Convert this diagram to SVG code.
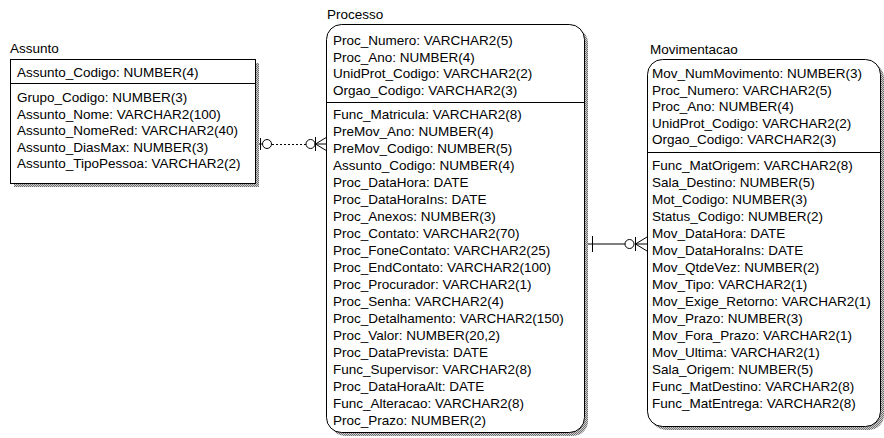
<svg xmlns="http://www.w3.org/2000/svg" width="884" height="438" viewBox="0 0 884 438">
<defs>
<pattern id="hatch" width="2" height="2" patternUnits="userSpaceOnUse">
<rect width="2" height="2" fill="#d0d0d0"/>
<rect width="1" height="1" fill="#707070"/>
<rect x="1" y="1" width="1" height="1" fill="#707070"/>
</pattern>
</defs>
<style>
text{font-family:"Liberation Sans",Arial,sans-serif;font-size:13.5px;fill:#000}
.box{fill:#fff;stroke:#000;stroke-width:1}
.shadow{fill:url(#hatch)}
.sep{stroke:#000;stroke-width:1}
.ln{stroke:#000;stroke-width:1;fill:none}
.dot{stroke:#000;stroke-width:1;fill:none;stroke-dasharray:2,2}
.circ{fill:#fff;stroke:#000;stroke-width:1}
</style>
<g id="connectors">
<g id="assunto-processo">
<line class="ln" x1="255" y1="144" x2="262" y2="144"/>
<line class="ln" x1="260.5" y1="138" x2="260.5" y2="150"/>
<circle class="circ" cx="267" cy="144" r="4.5"/>
<line class="dot" x1="272" y1="144.5" x2="306" y2="144.5"/>
<circle class="circ" cx="310.5" cy="144" r="4.5"/>
<line class="ln" x1="315.5" y1="137" x2="315.5" y2="151"/>
<path class="ln" d="M315.5 144 L327 137 M315.5 144 L327 151 M315 144 L327 144"/>
</g>
<g id="processo-movimentacao">
<line class="ln" x1="584" y1="244" x2="625" y2="244"/>
<line class="ln" x1="592.5" y1="236" x2="592.5" y2="252"/>
<circle class="circ" cx="629.5" cy="244" r="4.5"/>
<line class="ln" x1="635.5" y1="237" x2="635.5" y2="251"/>
<path class="ln" d="M635.5 244 L647 237 M635.5 244 L647 251 M635 244 L647 244"/>
</g>
</g>
<g id="assunto">
<text x="10" y="53">Assunto</text>
<rect class="shadow" x="14" y="63" width="245" height="124"/>
<rect class="box" x="10.5" y="59.5" width="245" height="124"/>
<line class="sep" x1="10.5" y1="83.5" x2="255.5" y2="83.5"/>
<text x="17" y="77">Assunto_Codigo: NUMBER(4)</text>
<text x="17" y="102">Grupo_Codigo: NUMBER(3)</text>
<text x="17" y="118.5">Assunto_Nome: VARCHAR2(100)</text>
<text x="17" y="135">Assunto_NomeRed: VARCHAR2(40)</text>
<text x="17" y="151.5">Assunto_DiasMax: NUMBER(3)</text>
<text x="17" y="168">Assunto_TipoPessoa: VARCHAR2(2)</text>
</g>
<g id="processo">
<text x="327" y="19">Processo</text>
<rect class="shadow" x="330" y="28" width="258" height="408" rx="15"/>
<rect class="box" x="326.5" y="24.5" width="258" height="408" rx="15"/>
<line class="sep" x1="326.5" y1="102.5" x2="584.5" y2="102.5"/>
<text x="333" y="45">Proc_Numero: VARCHAR2(5)</text>
<text x="333" y="61.5">Proc_Ano: NUMBER(4)</text>
<text x="333" y="78">UnidProt_Codigo: VARCHAR2(2)</text>
<text x="333" y="94.5">Orgao_Codigo: VARCHAR2(3)</text>
<text x="333" y="119">Func_Matricula: VARCHAR2(8)</text>
<text x="333" y="136">PreMov_Ano: NUMBER(4)</text>
<text x="333" y="153">PreMov_Codigo: NUMBER(5)</text>
<text x="333" y="170">Assunto_Codigo: NUMBER(4)</text>
<text x="333" y="187">Proc_DataHora: DATE</text>
<text x="333" y="204">Proc_DataHoraIns: DATE</text>
<text x="333" y="221">Proc_Anexos: NUMBER(3)</text>
<text x="333" y="238">Proc_Contato: VARCHAR2(70)</text>
<text x="333" y="255">Proc_FoneContato: VARCHAR2(25)</text>
<text x="333" y="272">Proc_EndContato: VARCHAR2(100)</text>
<text x="333" y="289">Proc_Procurador: VARCHAR2(1)</text>
<text x="333" y="306">Proc_Senha: VARCHAR2(4)</text>
<text x="333" y="323">Proc_Detalhamento: VARCHAR2(150)</text>
<text x="333" y="340">Proc_Valor: NUMBER(20,2)</text>
<text x="333" y="357">Proc_DataPrevista: DATE</text>
<text x="333" y="374">Func_Supervisor: VARCHAR2(8)</text>
<text x="333" y="391">Proc_DataHoraAlt: DATE</text>
<text x="333" y="408">Func_Alteracao: VARCHAR2(8)</text>
<text x="333" y="425">Proc_Prazo: NUMBER(2)</text>
</g>
<g id="movimentacao">
<text x="650" y="54">Movimentacao</text>
<rect class="shadow" x="651" y="63" width="233" height="367" rx="15"/>
<rect class="box" x="647.5" y="59.5" width="233" height="367" rx="15"/>
<line class="sep" x1="647.5" y1="152.5" x2="880.5" y2="152.5"/>
<text x="652" y="78">Mov_NumMovimento: NUMBER(3)</text>
<text x="652" y="94.5">Proc_Numero: VARCHAR2(5)</text>
<text x="652" y="111">Proc_Ano: NUMBER(4)</text>
<text x="652" y="127.5">UnidProt_Codigo: VARCHAR2(2)</text>
<text x="652" y="144">Orgao_Codigo: VARCHAR2(3)</text>
<text x="652" y="170">Func_MatOrigem: VARCHAR2(8)</text>
<text x="652" y="187">Sala_Destino: NUMBER(5)</text>
<text x="652" y="204">Mot_Codigo: NUMBER(3)</text>
<text x="652" y="221">Status_Codigo: NUMBER(2)</text>
<text x="652" y="238">Mov_DataHora: DATE</text>
<text x="652" y="255">Mov_DataHoraIns: DATE</text>
<text x="652" y="272">Mov_QtdeVez: NUMBER(2)</text>
<text x="652" y="289">Mov_Tipo: VARCHAR2(1)</text>
<text x="652" y="306">Mov_Exige_Retorno: VARCHAR2(1)</text>
<text x="652" y="323">Mov_Prazo: NUMBER(3)</text>
<text x="652" y="340">Mov_Fora_Prazo: VARCHAR2(1)</text>
<text x="652" y="357">Mov_Ultima: VARCHAR2(1)</text>
<text x="652" y="374">Sala_Origem: NUMBER(5)</text>
<text x="652" y="391">Func_MatDestino: VARCHAR2(8)</text>
<text x="652" y="408">Func_MatEntrega: VARCHAR2(8)</text>
</g>
</svg>
